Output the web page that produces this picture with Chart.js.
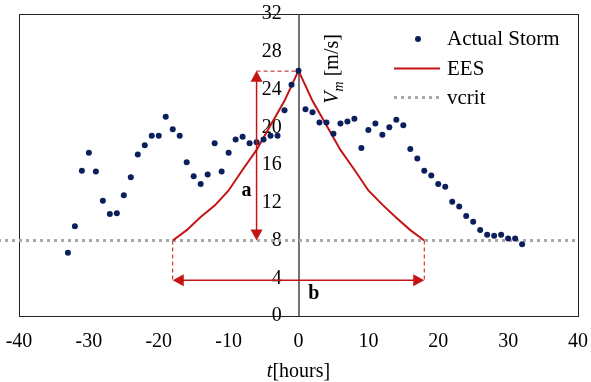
<!DOCTYPE html>
<html>
<head>
<meta charset="utf-8">
<script src="https://cdn.jsdelivr.net/npm/chart.js@4.4.1/dist/chart.umd.min.js"></script>
<style>
  html, body { margin: 0; padding: 0; background: #fff; }
  #wrap { width: 591px; height: 382px; }
</style>
</head>
<body>
<div id="wrap"><canvas id="stormChart"></canvas></div>
<script>
// observed storm wind speed, hourly around the peak
const stormHours = [-33, -32, -31, -30, -29, -28, -27, -26, -25, -24, -23, -22, -21, -20, -19, -18, -17,
  -16, -15, -14, -13, -12, -11, -10, -9, -8, -7, -6, -5, -4, -3, -2, -1, 0,
  1, 2, 3, 4, 5, 6, 7, 8, 9, 10, 11, 12, 13, 14, 15, 16,
  17, 18, 19, 20, 21, 22, 23, 24, 25, 26, 27, 28, 29, 30, 31, 32];
const stormSpeed = [6.7, 9.5, 15.4, 17.3, 15.3, 12.2, 10.8, 10.9, 12.8, 14.7, 17.1, 18.1, 19.1, 19.1, 21.1, 19.8, 19.1,
  16.3, 14.8, 14.0, 15.0, 18.3, 15.3, 17.3, 18.7, 19.0, 18.3, 18.4, 18.7, 19.1, 19.1, 21.8, 24.5, 26.0,
  21.9, 21.6, 20.5, 20.5, 19.3, 20.4, 20.6, 20.9, 17.8, 19.7, 20.4, 19.2, 20.0, 20.8, 20.2, 17.7,
  16.7, 15.4, 14.9, 14.0, 13.7, 12.1, 11.6, 10.6, 10.0, 9.1, 8.6, 8.5, 8.6, 8.2, 8.2, 7.6];

// equivalent event shape (EES)
const eesHours = [-18, -16, -14, -12, -10, -8, -6, -4, -2, 0, 2, 4, 6, 8, 10, 12, 14, 16, 18];
const eesSpeed = [8.0, 9.1, 10.5, 11.7, 13.3, 15.5, 17.6, 20.2, 22.8, 26.0, 22.8, 20.2, 17.6, 15.5, 13.3, 11.8, 10.4, 9.1, 8.0];

// critical speed line
const vcritHours = [-43, 40];
const vcritSpeed = [8, 8];

// tick values
const xTicks = [-40, -30, -20, -10, 0, 10, 20, 30, 40];
const yTicks = [0, 4, 8, 12, 16, 20, 24, 28, 32];

// arrow a: peak height above vcrit, arrow b: base width
const arrowA = [-6, 8, 26];     // t, from v, to v
const arrowB = [3.8, -18, 18];  // v, from t, to t

const navy = '#0b1f5c';
const red = '#c41414';
const grey = '#a8a8a8';
const serif = "'Liberation Serif', 'DejaVu Serif', serif";

const toPoints = (xs, ys) => xs.map((x, i) => ({ x: x, y: ys[i] }));

function arrowHead(ctx, x, y, dir) {
    // dir: 'up', 'down', 'left', 'right'
    const len = 11, half = 6;
    ctx.beginPath();
    if (dir === 'up') { ctx.moveTo(x, y); ctx.lineTo(x - half, y + len); ctx.lineTo(x + half, y + len); }
    if (dir === 'down') { ctx.moveTo(x, y); ctx.lineTo(x - half, y - len); ctx.lineTo(x + half, y - len); }
    if (dir === 'left') { ctx.moveTo(x, y); ctx.lineTo(x + len, y - half); ctx.lineTo(x + len, y + half); }
    if (dir === 'right') { ctx.moveTo(x, y); ctx.lineTo(x - len, y - half); ctx.lineTo(x - len, y + half); }
    ctx.closePath();
    ctx.fill();
}

const extras = {
    id: 'extras',
    beforeDatasetsDraw(chart) {
        const ctx = chart.ctx;
        const area = chart.chartArea;
        const zx = Math.round(chart.scales.x.getPixelForValue(0));
        ctx.save();
        // frame and the t = 0 axis line
        ctx.strokeStyle = '#222';
        ctx.lineWidth = 1;
        ctx.strokeRect(Math.round(area.left) + 0.5, Math.round(area.top) + 0.5,
            Math.round(area.right - area.left), Math.round(area.bottom - area.top));
        ctx.strokeStyle = '#444';
        ctx.lineWidth = 1.5;
        ctx.beginPath(); ctx.moveTo(zx, area.top); ctx.lineTo(zx, area.bottom); ctx.stroke();
        ctx.restore();
    },
    afterDatasetsDraw(chart) {
        const ctx = chart.ctx;
        const xs = chart.scales.x, ys = chart.scales.y;
        ctx.save();

        ctx.strokeStyle = red;
        ctx.fillStyle = red;

        // arrow a
        const ax = xs.getPixelForValue(arrowA[0]);
        const ay0 = ys.getPixelForValue(arrowA[1]);
        const ay1 = ys.getPixelForValue(arrowA[2]);
        ctx.lineWidth = 1.5;
        ctx.beginPath(); ctx.moveTo(ax, ay0 - 4); ctx.lineTo(ax, ay1 + 4); ctx.stroke();
        arrowHead(ctx, ax, ay1, 'up');
        arrowHead(ctx, ax, ay0, 'down');
        ctx.setLineDash([4, 3]);
        ctx.lineWidth = 1;
        ctx.beginPath(); ctx.moveTo(ax, ay1 + 0.5); ctx.lineTo(xs.getPixelForValue(0), ay1 + 0.5); ctx.stroke();

        // arrow b
        const by = ys.getPixelForValue(arrowB[0]);
        const bx0 = xs.getPixelForValue(arrowB[1]);
        const bx1 = xs.getPixelForValue(arrowB[2]);
        const baseY = ys.getPixelForValue(8);
        ctx.beginPath();
        ctx.moveTo(bx0, baseY); ctx.lineTo(bx0, by);
        ctx.moveTo(bx1, baseY); ctx.lineTo(bx1, by);
        ctx.stroke();
        ctx.setLineDash([]);
        ctx.lineWidth = 1.5;
        ctx.beginPath(); ctx.moveTo(bx0 + 4, by); ctx.lineTo(bx1 - 4, by); ctx.stroke();
        arrowHead(ctx, bx0, by, 'left');
        arrowHead(ctx, bx1, by, 'right');

        // letters
        ctx.fillStyle = '#000';
        ctx.font = "bold 20px " + serif;
        ctx.textAlign = 'center';
        ctx.textBaseline = 'middle';
        ctx.fillText('a', ax - 10, ys.getPixelForValue(13.3));
        ctx.fillText('b', xs.getPixelForValue(2.2), ys.getPixelForValue(2.4));

        // y axis title, rotated, right of the axis line
        ctx.save();
        ctx.translate(xs.getPixelForValue(0) + 39, ys.getPixelForValue(22.5));
        ctx.rotate(-Math.PI / 2);
        ctx.textAlign = 'left';
        ctx.textBaseline = 'alphabetic';
        ctx.font = "italic 20px " + serif;
        ctx.fillText('V', 0, 0);
        let w = ctx.measureText('V').width;
        ctx.font = "italic 14px " + serif;
        ctx.fillText('m', w, 5);
        w += ctx.measureText('m').width;
        ctx.font = "20px " + serif;
        ctx.fillText(' [m/s]', w, 0);
        ctx.restore();

        // x axis title
        ctx.textBaseline = 'alphabetic';
        ctx.textAlign = 'left';
        ctx.font = "italic 20px " + serif;
        const tW = ctx.measureText('t').width;
        ctx.font = "20px " + serif;
        const hW = ctx.measureText('[hours]').width;
        const tx = xs.getPixelForValue(0) - (tW + hW) / 2;
        ctx.font = "italic 20px " + serif;
        ctx.fillText('t', tx, 377);
        ctx.font = "20px " + serif;
        ctx.fillText('[hours]', tx + tW, 377);

        // legend
        ctx.font = "21px " + serif;
        ctx.textBaseline = 'middle';
        ctx.fillStyle = '#000';
        ctx.fillText('Actual Storm', 447, 39);
        ctx.fillText('EES', 447, 69);
        ctx.fillText('vcrit', 447, 98);
        ctx.fillStyle = navy;
        ctx.beginPath(); ctx.arc(418, 39, 3, 0, Math.PI * 2); ctx.fill();
        ctx.strokeStyle = red; ctx.lineWidth = 2;
        ctx.beginPath(); ctx.moveTo(394, 68.5); ctx.lineTo(440, 68.5); ctx.stroke();
        ctx.strokeStyle = grey; ctx.lineWidth = 3; ctx.setLineDash([3, 4]);
        ctx.beginPath(); ctx.moveTo(394, 97.5); ctx.lineTo(440, 97.5); ctx.stroke();

        ctx.restore();
    }
};

new Chart(document.getElementById('stormChart'), {
    type: 'scatter',
    data: {
        datasets: [{
            label: 'vcrit',
            data: toPoints(vcritHours, vcritSpeed),
            showLine: true,
            borderColor: grey,
            borderWidth: 3,
            borderDash: [3, 4],
            pointRadius: 0,
            clip: false,
            order: 3
        }, {
            label: 'EES',
            data: toPoints(eesHours, eesSpeed),
            showLine: true,
            borderColor: red,
            borderWidth: 2,
            pointRadius: 0,
            order: 2
        }, {
            label: 'Actual Storm',
            data: toPoints(stormHours, stormSpeed),
            backgroundColor: navy,
            borderColor: navy,
            pointRadius: 3,
            pointBorderWidth: 0,
            order: 1
        }]
    },
    options: {
        responsive: true,
        maintainAspectRatio: false,
        animation: false,
        layout: { padding: { left: 19, right: 13, top: 14, bottom: 0 } },
        plugins: {
            legend: { display: false },
            tooltip: { enabled: false }
        },
        scales: {
            x: {
                type: 'linear',
                min: -40,
                max: 40,
                afterBuildTicks: s => { s.ticks = xTicks.map(v => ({ value: v })); },
                afterFit: s => { s.height = 66; s.paddingLeft = 0; s.paddingRight = 0; },
                grid: { display: false },
                border: { display: false },
                ticks: { color: '#000', font: { family: serif, size: 20 }, padding: 6, maxRotation: 0 }
            },
            y: {
                min: 0,
                max: 32,
                // labels sit a little left of the t = 0 line, which is drawn by the plugin
                position: { x: -2.4 },
                afterBuildTicks: s => { s.ticks = yTicks.map(v => ({ value: v })); },
                afterFit: s => { s.paddingTop = 0; s.paddingBottom = 0; },
                grid: { display: false },
                border: { display: false },
                ticks: { color: '#000', font: { family: serif, size: 20 } }
            }
        }
    },
    plugins: [extras]
});
</script>
</body>
</html>
